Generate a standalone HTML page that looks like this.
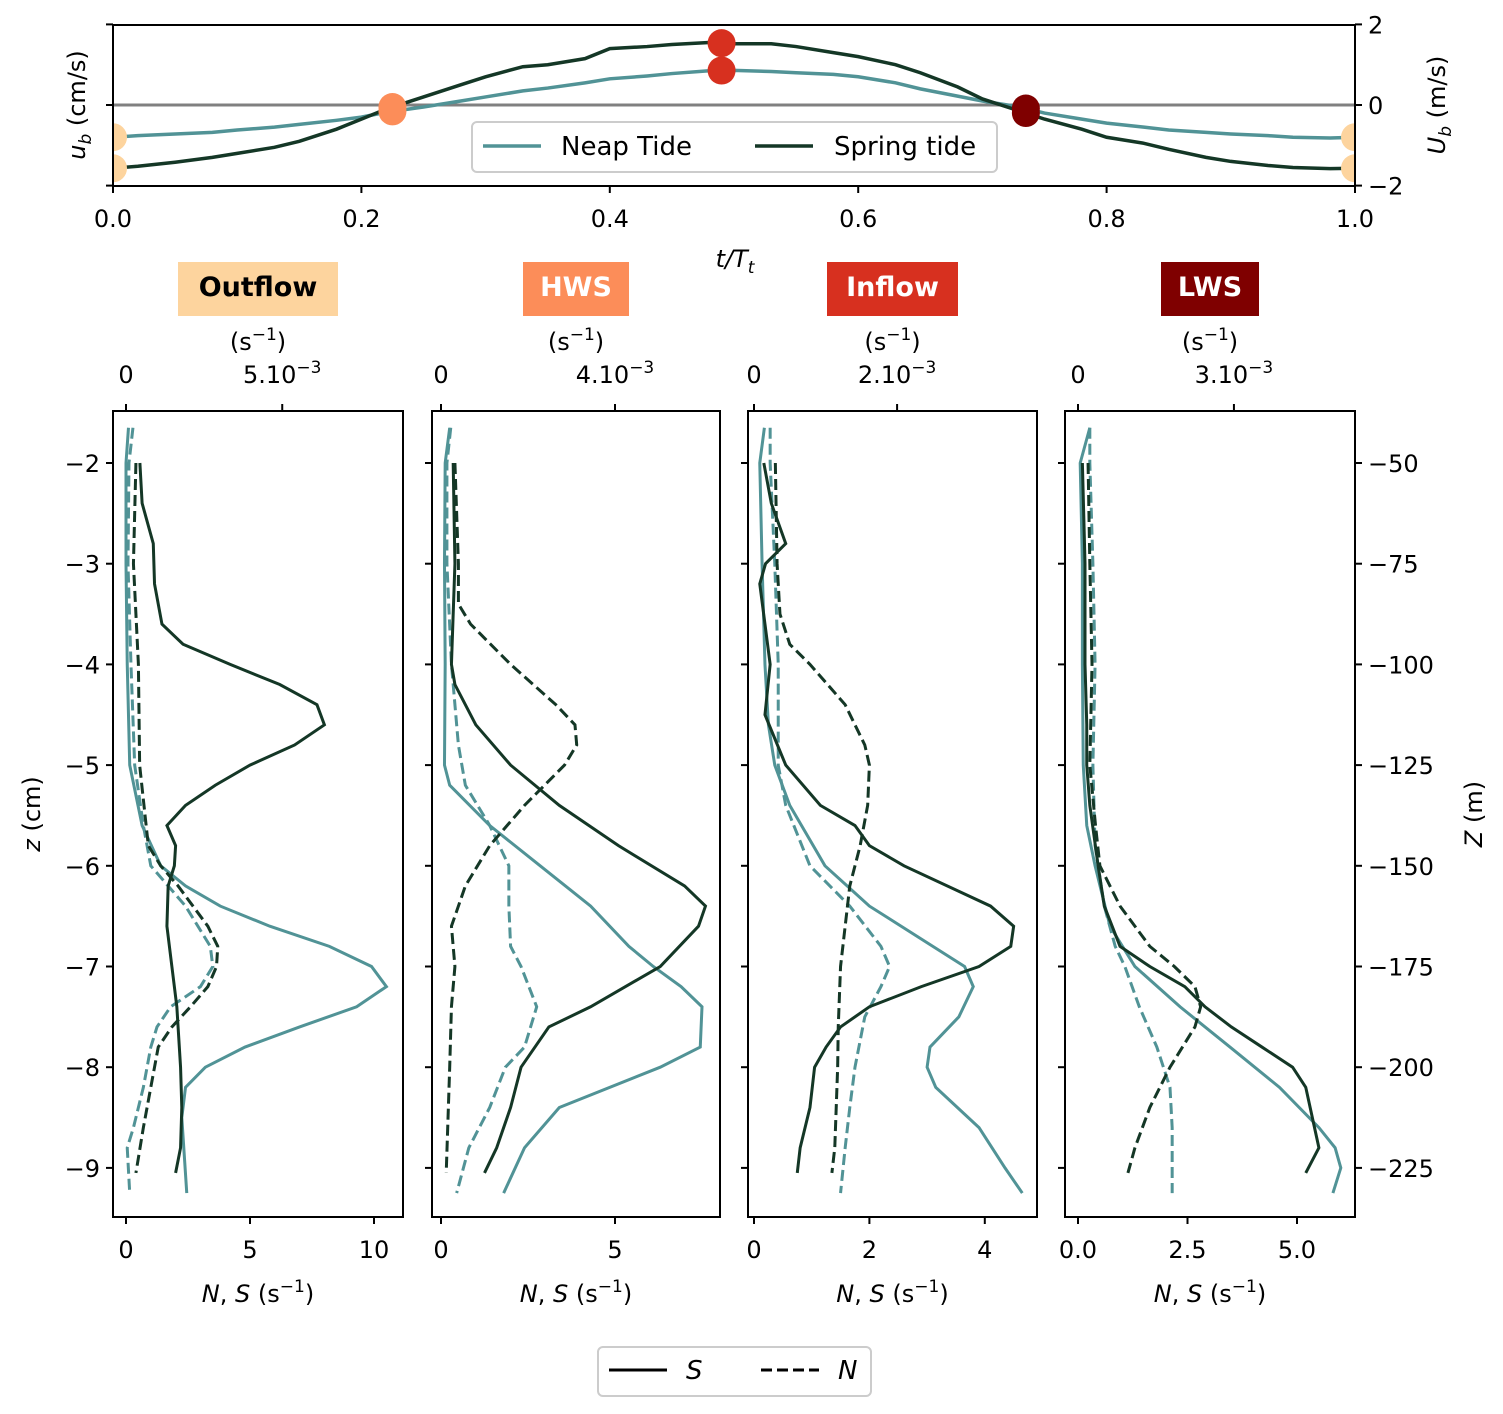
<!DOCTYPE html>
<html><head><meta charset="utf-8"><style>
body{margin:0;background:#fff}
svg{display:block;font-family:"DejaVu Sans","Liberation Sans",sans-serif}
</style></head><body>
<svg id="c" width="1503" height="1414" viewBox="0 0 1503 1414" xmlns="http://www.w3.org/2000/svg"></svg>
<script>
// ---- top panel data ----
const tGrid=[0,.02,.05,.08,.1,.13,.15,.18,.2,.22,.25,.28,.3,.33,.35,.38,.4,.43,.45,.48,.5,.53,.55,.58,.6,.63,.65,.68,.7,.73,.75,.78,.8,.83,.85,.88,.9,.93,.95,.98,1];
const neapU=[-0.8,-0.76,-0.72,-0.68,-0.62,-0.55,-0.48,-0.38,-0.3,-0.18,-0.05,0.1,0.2,0.35,0.42,0.55,0.65,0.72,0.78,0.85,0.86,0.83,0.8,0.76,0.7,0.55,0.4,0.22,0.1,-0.05,-0.2,-0.35,-0.45,-0.55,-0.62,-0.68,-0.72,-0.76,-0.8,-0.82,-0.8];
const springU=[-1.57,-1.52,-1.42,-1.3,-1.2,-1.05,-0.9,-0.6,-0.35,-0.1,0.2,0.5,0.7,0.95,1.0,1.15,1.4,1.45,1.5,1.55,1.52,1.52,1.45,1.3,1.2,1.0,0.8,0.45,0.15,-0.15,-0.35,-0.6,-0.8,-0.95,-1.1,-1.3,-1.4,-1.5,-1.55,-1.58,-1.57];
const phaseNames=["Outflow","HWS","Inflow","LWS"];
const phaseT=[0,0.225,0.49,0.735];
const phaseColors=["#fdd49e","#fc8d59","#d7301f","#7f0000"];
const topXTicks=[0,0.2,0.4,0.6,0.8,1.0];
const topYTicks=[2,0,-2];
// ---- profile panels data ----
const p1SpringSz=[-2,-2.4,-2.8,-3.2,-3.6,-3.8,-4,-4.2,-4.4,-4.6,-4.8,-5,-5.2,-5.4,-5.6,-5.8,-6,-6.2,-6.6,-7,-7.4,-8,-8.4,-8.8,-9.05];
const p1SpringS=[0.56,0.65,1.1,1.15,1.45,2.3,4.2,6.2,7.7,8.0,6.8,5.0,3.6,2.4,1.65,2.0,1.95,1.7,1.65,1.85,2.05,2.2,2.25,2.2,2.0];
const p1SpringNz=[-2,-3,-4,-5,-5.8,-6,-6.2,-6.6,-6.8,-7,-7.2,-7.4,-7.6,-7.8,-8.2,-8.6,-9.05];
const p1SpringN=[0.4,0.3,0.5,0.55,0.9,1.4,2.1,3.3,3.7,3.65,3.3,2.6,1.85,1.3,1.0,0.7,0.4];
const p1NeapSz=[-1.65,-2,-3,-4,-5,-5.6,-6,-6.2,-6.4,-6.6,-6.8,-7,-7.2,-7.4,-7.6,-7.8,-8,-8.2,-8.5,-9.25];
const p1NeapS=[0.1,0,0,0.05,0.15,0.65,1.4,2.4,3.8,5.8,8.2,9.9,10.5,9.3,7.0,4.8,3.2,2.4,2.25,2.45];
const p1NeapNz=[-1.65,-2,-3,-4,-5,-5.6,-6,-6.4,-6.8,-7,-7.2,-7.4,-7.6,-7.8,-8.2,-8.6,-8.8,-9.25];
const p1NeapN=[0.28,0.12,0.08,0.2,0.35,0.7,1.0,2.4,3.4,3.5,3.0,1.8,1.25,1.0,0.7,0.3,0.05,0.15];

const p2SpringSz=[-2,-3,-4,-4.2,-4.6,-5,-5.4,-5.8,-6.2,-6.4,-6.6,-7,-7.4,-7.6,-8,-8.4,-8.8,-9.05];
const p2SpringS=[0.35,0.4,0.3,0.4,1.0,2.0,3.4,5.1,7.0,7.6,7.4,6.3,4.3,3.1,2.3,2.0,1.6,1.25];
const p2SpringNz=[-2,-3,-3.4,-3.6,-4,-4.4,-4.6,-4.8,-5,-5.4,-5.8,-6.2,-6.6,-7,-7.4,-8,-9.05];
const p2SpringN=[0.4,0.5,0.5,0.85,2.0,3.3,3.85,3.9,3.55,2.4,1.4,0.7,0.3,0.4,0.3,0.25,0.15];
const p2NeapSz=[-1.65,-2,-3,-4,-5,-5.2,-5.6,-6,-6.4,-6.8,-7,-7.2,-7.4,-7.8,-8,-8.4,-8.8,-9.25];
const p2NeapS=[0.25,0.12,0.1,0.12,0.1,0.25,1.4,2.85,4.3,5.4,6.1,6.9,7.5,7.45,6.3,3.4,2.4,1.8];
const p2NeapNz=[-1.65,-2,-3,-4,-4.8,-5.2,-5.6,-6,-6.4,-6.8,-7,-7.4,-7.8,-8,-8.4,-8.8,-9.25];
const p2NeapN=[0.28,0.17,0.17,0.3,0.5,0.7,1.4,1.95,1.95,2.0,2.3,2.75,2.4,1.85,1.4,0.8,0.45];

const p3SpringSz=[-2,-2.4,-2.8,-3,-3.2,-3.6,-4,-4.5,-5,-5.4,-5.6,-5.8,-6,-6.4,-6.6,-6.8,-7,-7.2,-7.4,-7.6,-7.8,-8,-8.4,-8.8,-9.05];
const p3SpringS=[0.17,0.3,0.55,0.2,0.1,0.19,0.28,0.19,0.55,1.15,1.75,2.0,2.6,4.1,4.5,4.45,3.9,2.9,2.0,1.5,1.25,1.05,0.97,0.8,0.75];
const p3SpringNz=[-2,-3,-3.5,-3.8,-4,-4.4,-4.8,-5,-5.4,-5.8,-6.2,-6.6,-7,-7.6,-8,-8.8,-9.05];
const p3SpringN=[0.37,0.4,0.45,0.62,0.97,1.58,1.92,2.0,1.97,1.84,1.66,1.58,1.5,1.46,1.45,1.4,1.35];
const p3NeapSz=[-1.65,-2,-3,-4,-4.6,-5,-5.4,-6,-6.4,-6.8,-7,-7.2,-7.5,-7.8,-8,-8.2,-8.6,-9,-9.25];
const p3NeapS=[0.18,0.1,0.14,0.19,0.25,0.36,0.62,1.23,2.0,3.1,3.65,3.8,3.55,3.05,3.0,3.15,3.9,4.35,4.65];
const p3NeapNz=[-1.65,-2,-3,-4,-5,-5.4,-6,-6.4,-6.8,-7,-7.2,-7.5,-8,-8.4,-8.8,-9.25];
const p3NeapN=[0.28,0.28,0.36,0.42,0.42,0.55,0.97,1.66,2.2,2.35,2.2,1.92,1.75,1.66,1.58,1.5];

const p4SpringSz=[-2,-3,-4,-4.6,-5,-5.4,-6,-6.4,-6.8,-7,-7.2,-7.4,-7.6,-7.8,-8,-8.2,-8.6,-8.8,-9.05];
const p4SpringS=[0.1,0.16,0.16,0.2,0.2,0.27,0.46,0.6,0.96,1.64,2.44,2.9,3.5,4.2,4.9,5.2,5.4,5.5,5.2];
const p4SpringNz=[-2,-3,-4,-5,-5.6,-6,-6.4,-6.8,-7,-7.2,-7.4,-7.6,-8,-8.4,-8.8,-9.05];
const p4SpringN=[0.23,0.27,0.32,0.27,0.4,0.5,0.96,1.64,2.2,2.67,2.8,2.67,2.1,1.64,1.3,1.14];
const p4NeapSz=[-1.65,-2,-3,-4,-5,-5.6,-6,-6.6,-7,-7.4,-7.8,-8.2,-8.6,-8.8,-9,-9.25];
const p4NeapS=[0.27,0.05,0.1,0.1,0.12,0.2,0.39,0.73,1.3,2.33,3.47,4.6,5.5,5.87,6.0,5.82];
const p4NeapNz=[-1.65,-2,-3,-4,-5,-5.8,-6.4,-6.8,-7,-7.4,-7.8,-8.2,-8.6,-9.25];
const p4NeapN=[0.27,0.27,0.34,0.39,0.34,0.39,0.6,0.85,1.07,1.4,1.8,2.1,2.15,2.15];

const zTicks=[-2,-3,-4,-5,-6,-7,-8,-9];
const ZTicks=[-50,-75,-100,-125,-150,-175,-200,-225];
const p1XTicks=[0,5,10], p2XTicks=[0,5], p3XTicks=[0,2,4], p4XTicks=[0,2.5,5];
const p4XTickLabels=["0.0","2.5","5.0"];
const topTickLabels=[["0","5.10"],["0","4.10"],["0","2.10"],["0","3.10"]];
const topTickVals=[[0,6.3],[0,5],[0,2.48],[0,3.56]];

const NS="http://www.w3.org/2000/svg";
const svg=document.getElementById('c');
function mk(tag,attrs,parent){const e=document.createElementNS(NS,tag);for(const k in attrs)e.setAttribute(k,attrs[k]);(parent||svg).appendChild(e);return e;}
function txt(s,x,y,size,anchor,parent,extra){const e=mk('text',Object.assign({x:x,y:y,'font-size':size,'text-anchor':anchor||'middle',fill:'#000'},extra||{}),parent);e.textContent=s;return e;}
const NEAP="#519396", SPRING="#143726";

// ---- top panel ----
const tx=t=>113+t*1242, ty=u=>105-u*40.3;
const defs=mk('defs',{});
const cp=mk('clipPath',{id:'topclip'},defs);mk('rect',{x:113,y:25,width:1242,height:161},cp);
const topG=mk('g',{'clip-path':'url(#topclip)'});


const zl=mk('line',{x1:113,x2:1355,y1:ty(0),y2:ty(0),stroke:'#808080','stroke-width':3},topG);


const np=mk('polyline',{points:tGrid.map((t,i)=>tx(t)+','+ty(neapU[i])).join(' '),fill:'none',stroke:NEAP,'stroke-width':3.5},topG);


const sp=mk('polyline',{points:tGrid.map((t,i)=>tx(t)+','+ty(springU[i])).join(' '),fill:'none',stroke:SPRING,'stroke-width':3.5},topG);


function interp(t,arr){for(let i=0;i<tGrid.length-1;i++){if(t>=tGrid[i]&&t<=tGrid[i+1]){const f=(t-tGrid[i])/(tGrid[i+1]-tGrid[i]);return arr[i]+f*(arr[i+1]-arr[i]);}}return arr[arr.length-1];}
phaseT.forEach((t,k)=>{[neapU,springU].forEach(arr=>{[t,k===0?1:null].forEach(tt=>{if(tt===null)return;
 const c=mk('circle',{cx:tx(tt),cy:ty(interp(tt,arr)),r:14,fill:phaseColors[k]},topG);
 
 });});});
mk('rect',{x:113,y:25,width:1242,height:161,fill:'none',stroke:'#000','stroke-width':2});
topXTicks.forEach(v=>{mk('line',{x1:tx(v),x2:tx(v),y1:186,y2:193,stroke:'#000','stroke-width':2});txt(v.toFixed(1),tx(v),227,24);});
topYTicks.forEach(v=>{mk('line',{x1:1355,x2:1362,y1:ty(v),y2:ty(v),stroke:'#000','stroke-width':2});mk('line',{x1:106,x2:113,y1:ty(v),y2:ty(v),stroke:'#000','stroke-width':2});txt(v<0?'−'+(-v):String(v),1368,ty(v)+9,24,'start');});
txt('t/T',735,267,24,'middle',null,{'font-style':'italic'}).innerHTML='t/T<tspan font-size="17" dy="6">t</tspan>';
const ylab=txt('',0,0,24,'middle',null,{transform:'translate(85,105) rotate(-90)'});ylab.innerHTML='<tspan font-style="italic">u</tspan><tspan font-style="italic" font-size="17" dy="6">b</tspan><tspan dy="-6"> (cm/s)</tspan>';
const ylab2=txt('',0,0,24,'middle',null,{transform:'translate(1445,105) rotate(-90)'});ylab2.innerHTML='<tspan font-style="italic">U</tspan><tspan font-style="italic" font-size="17" dy="6">b</tspan><tspan dy="-6"> (m/s)</tspan>';
// top legend
const lg=mk('g',{});


mk('rect',{x:472,y:122,width:525,height:50,rx:5,fill:'#fff','fill-opacity':0.85,stroke:'#ccc','stroke-width':2},lg);
mk('line',{x1:483,x2:541,y1:146,y2:146,stroke:NEAP,'stroke-width':3.5},lg);
txt('Neap Tide',561,155,26,'start',lg);
mk('line',{x1:755,x2:813,y1:146,y2:146,stroke:SPRING,'stroke-width':3.5},lg);
txt('Spring tide',834,155,26,'start',lg);

// ---- profile panels ----
const panels=[
 {x0:113,x1:403,o:126,s:24.8,ticks:p1XTicks,labels:p1XTicks.map(String),d:[[p1NeapSz,p1NeapS,NEAP,0],[p1NeapNz,p1NeapN,NEAP,1],[p1SpringSz,p1SpringS,SPRING,0],[p1SpringNz,p1SpringN,SPRING,1]]},
 {x0:432,x1:720,o:441,s:34.8,ticks:p2XTicks,labels:p2XTicks.map(String),d:[[p2NeapSz,p2NeapS,NEAP,0],[p2NeapNz,p2NeapN,NEAP,1],[p2SpringSz,p2SpringS,SPRING,0],[p2SpringNz,p2SpringN,SPRING,1]]},
 {x0:748,x1:1037,o:754,s:57.7,ticks:p3XTicks,labels:p3XTicks.map(String),d:[[p3NeapSz,p3NeapS,NEAP,0],[p3NeapNz,p3NeapN,NEAP,1],[p3SpringSz,p3SpringS,SPRING,0],[p3SpringNz,p3SpringN,SPRING,1]]},
 {x0:1065,x1:1355,o:1078,s:43.8,ticks:p4XTicks,labels:p4XTickLabels,d:[[p4NeapSz,p4NeapS,NEAP,0],[p4NeapNz,p4NeapN,NEAP,1],[p4SpringSz,p4SpringS,SPRING,0],[p4SpringNz,p4SpringN,SPRING,1]]}
];
const zy=z=>463+(-2-z)*100.7;
panels.forEach((p,k)=>{
 const g=mk('g',{});
 
 
 const X=v=>p.o+v*p.s;
 p.d.forEach(([zs,vs,col,dash],j)=>{
  const l=mk('polyline',{points:zs.map((z,i)=>X(vs[i])+','+zy(z)).join(' '),fill:'none',stroke:col,'stroke-width':3,'stroke-dasharray':dash?'11,5':'none'},g);
  
  
 });
 mk('rect',{x:p.x0,y:411,width:p.x1-p.x0,height:806,fill:'none',stroke:'#000','stroke-width':2},g);
 p.ticks.forEach((v,i)=>{mk('line',{x1:X(v),x2:X(v),y1:1217,y2:1224,stroke:'#000','stroke-width':2},g);txt(p.labels[i],X(v),1258,24,'middle',g);});
 topTickVals[k].forEach((v,i)=>{const xx=X(v);mk('line',{x1:xx,x2:xx,y1:404,y2:411,stroke:'#000','stroke-width':2},g);
  const t=txt('',xx,383,24,'middle',g);t.innerHTML=i===0?'0':topTickLabels[k][1]+'<tspan font-size="17" dy="-10">−3</tspan>';});
 zTicks.forEach(z=>{mk('line',{x1:p.x0-7,x2:p.x0,y1:zy(z),y2:zy(z),stroke:'#000','stroke-width':2},g);if(k===3)mk('line',{x1:p.x1,x2:p.x1+7,y1:zy(z),y2:zy(z),stroke:'#000','stroke-width':2},g);});
 const cx=(p.x0+p.x1)/2;
 const ul=txt('',cx,350,24,'middle',g);ul.innerHTML='(s<tspan font-size="17" dy="-10">−1</tspan><tspan dy="10">)</tspan>';
 const xl=txt('',cx,1302,24,'middle',g);xl.innerHTML='<tspan font-style="italic">N</tspan>, <tspan font-style="italic">S</tspan> (s<tspan font-size="17" dy="-10">−1</tspan><tspan dy="10">)</tspan>';
 const w=[160,106,131,98][k];
 const b=mk('rect',{x:cx-w/2,y:262,width:w,height:54,fill:phaseColors[k]},g);
 
 
 txt(phaseNames[k],cx,296,27,'middle',g,{'font-weight':'bold',fill:k===0?'#000':'#fff'});
});
zTicks.forEach(z=>txt('−'+(-z),100,zy(z)+9,24,'end'));
ZTicks.forEach(Z=>txt('−'+(-Z),1368,zy(Z/25)+9,24,'start'));
const zl1=txt('',0,0,24,'middle',null,{transform:'translate(40,814) rotate(-90)'});zl1.innerHTML='<tspan font-style="italic">z</tspan> (cm)';
const zl2=txt('',0,0,24,'middle',null,{transform:'translate(1482,814) rotate(-90)'});zl2.innerHTML='<tspan font-style="italic">Z</tspan> (m)';
// bottom legend
const bl=mk('g',{});


mk('rect',{x:598,y:1347,width:273,height:49,rx:5,fill:'#fff',stroke:'#ccc','stroke-width':2},bl);
mk('line',{x1:609,x2:667,y1:1370,y2:1370,stroke:'#000','stroke-width':3},bl);
txt('S',686,1379,26,'start',bl,{'font-style':'italic'});
mk('line',{x1:761,x2:819,y1:1370,y2:1370,stroke:'#000','stroke-width':3,'stroke-dasharray':'11,5'},bl);
txt('N',838,1379,26,'start',bl,{'font-style':'italic'});
</script>
</body></html>
